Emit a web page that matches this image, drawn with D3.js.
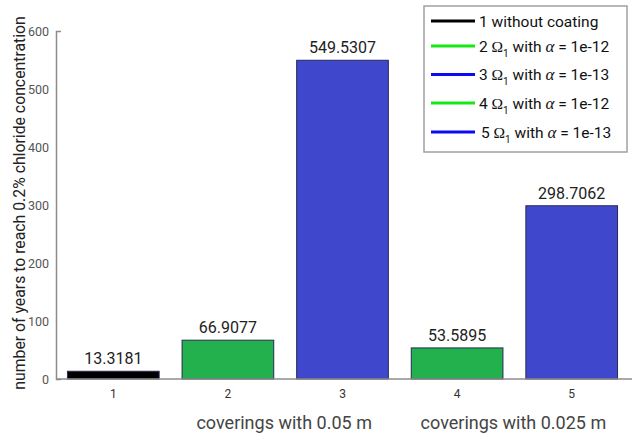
<!DOCTYPE html>
<html>
<head>
<meta charset="utf-8">
<script src="https://cdn.jsdelivr.net/npm/d3@7"></script>
<style>
  html, body { margin: 0; padding: 0; background: #fff; }
  svg { display: block; font-family: Roboto, "Noto Sans", sans-serif; }
</style>
</head>
<body>
<svg id="chart" width="632" height="435"></svg>
<script>
// Years to reach 0.2% chloride concentration for each covering case
const categories = ["1", "2", "3", "4", "5"];
const years = [13.3181, 66.9077, 549.5307, 53.5895, 298.7062];
const barColors = ["#000000", "#22b14c", "#3f48cc", "#22b14c", "#3f48cc"];
const yTicks = [0, 100, 200, 300, 400, 500, 600];

// Legend entries: number, whether it has the Omega/alpha form, alpha exponent
const legendNums = ["1", "2", "3", "4", "5"];
const legendAlpha = [null, "1e-12", "1e-13", "1e-12", "1e-13"];
const legendColors = ["#000000", "#16e816", "#0a0af5", "#16e816", "#0a0af5"];

const groupCaptions = ["coverings with 0.05 m", "coverings with 0.025 m"];
const groupCenters = [2.5, 4.5];

const svg = d3.select("#chart");
const axisColor = "#8c8c8c";

const x = d3.scaleBand().domain(categories).range([56, 629]).paddingInner(0.2).paddingOuter(0.1);
const xLin = d3.scaleLinear().domain([1, 5]).range([x("1") + x.bandwidth() / 2, x("5") + x.bandwidth() / 2]);
const y = d3.scaleLinear().domain([0, 600]).range([379, 31]);

// bars
svg.append("g").selectAll("rect").data(years).join("rect")
  .attr("x", (d, i) => x(categories[i]))
  .attr("y", d => y(d))
  .attr("width", x.bandwidth())
  .attr("height", d => y(0) - y(d))
  .attr("fill", (d, i) => barColors[i])
  .attr("stroke", "#2a2a55")
  .attr("stroke-width", 1);

// value labels above bars
svg.append("g").selectAll("text").data(years).join("text")
  .attr("x", (d, i) => x(categories[i]) + x.bandwidth() / 2)
  .attr("y", d => y(d) - 7)
  .attr("text-anchor", "middle")
  .attr("font-size", 16)
  .attr("fill", "#222")
  .text(d => d.toFixed(4));

// y axis
const yAxis = svg.append("g").attr("transform", "translate(56,0)")
  .call(d3.axisLeft(y).tickValues(yTicks).tickSizeInner(0).tickSizeOuter(-5).tickPadding(7));
yAxis.select(".domain").attr("stroke", axisColor).attr("stroke-width", 1.5);
yAxis.selectAll("text").attr("font-size", 12.5).attr("fill", "#555").attr("font-family", "Roboto, sans-serif");

// x axis
const xAxis = svg.append("g").attr("transform", "translate(0,379)")
  .call(d3.axisBottom(x).tickSize(0).tickPadding(10));
xAxis.select(".domain").attr("d", "M56,0H632").attr("stroke", axisColor).attr("stroke-width", 1.5);
xAxis.selectAll("text").attr("font-size", 12).attr("fill", "#333").attr("font-family", "Roboto, sans-serif");

// group captions
svg.append("g").selectAll("text").data(groupCaptions).join("text")
  .attr("x", (d, i) => xLin(groupCenters[i]) - 1)
  .attr("y", 429)
  .attr("text-anchor", "middle")
  .attr("font-size", 18)
  .attr("fill", "#444")
  .text(d => d);

// y axis title
svg.append("text")
  .attr("transform", "translate(25,203) rotate(-90)")
  .attr("text-anchor", "middle")
  .attr("font-size", 15.8)
  .attr("fill", "#222")
  .text("number of years to reach 0.2% chloride concentration");

// legend
const legend = svg.append("g");
legend.append("rect")
  .attr("x", 424).attr("y", 6).attr("width", 203).attr("height", 146)
  .attr("fill", "#fff").attr("stroke", "#a0a0a0").attr("stroke-width", 1.5);

const rowY = [21, 46, 74.5, 103, 132];
legendNums.forEach((n, i) => {
  const g = legend.append("g");
  g.append("line")
    .attr("x1", 431).attr("x2", 475)
    .attr("y1", rowY[i]).attr("y2", rowY[i])
    .attr("stroke", legendColors[i]).attr("stroke-width", 3);
  const t = g.append("text")
    .attr("x", i === 4 ? 481 : 479)
    .attr("y", rowY[i] + 5.5)
    .attr("font-size", 15.5)
    .attr("fill", "#111");
  if (legendAlpha[i] === null) {
    t.text(n + " without coating");
  } else {
    t.append("tspan").text(n + " ");
    t.append("tspan").attr("font-family", "'Liberation Serif', 'DejaVu Serif', serif").text("Ω");
    t.append("tspan").attr("font-size", 10).attr("dy", 5).text("1");
    t.append("tspan").attr("dy", -5).text(" with ");
    t.append("tspan").attr("font-family", "'Liberation Serif', 'DejaVu Serif', serif").attr("font-style", "italic").attr("font-size", 17).text("α");
    t.append("tspan").text(" = " + legendAlpha[i]);
  }
});
</script>
</body>
</html>
